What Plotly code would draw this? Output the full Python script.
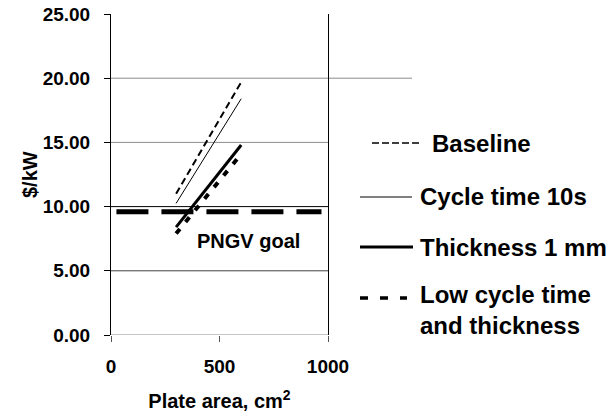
import plotly.graph_objects as go

# ---- data ----
plate_area = [300, 400, 500, 600]
baseline = [11.0, 13.9, 16.8, 19.7]
cycle_time_10s = [10.25, 12.97, 15.68, 18.4]
thickness_1mm = [8.4, 10.53, 12.67, 14.8]
low_cycle_thickness = [7.9, 9.97, 12.03, 14.1]
goal_x = [25, 970]
goal_y = [9.6, 9.6]
y_ticks = [0, 5, 10, 15, 20, 25]
y_tick_labels = ["0.00", "5.00", "10.00", "15.00", "20.00", "25.00"]
x_ticks = [0, 500, 1000]
grid_vals = [0, 5, 10, 15, 20]
grid_colors = ["#8c8c8c", "#404040", "#000000", "#8c8c8c", "#8c8c8c"]
series_names = ["Baseline", "Cycle time 10s", "Thickness 1 mm", "Low cycle time<br>and thickness"]

FONT = "Liberation Sans, Arial, Helvetica, sans-serif"

fig = go.Figure()

shapes = []
for v, c in zip(grid_vals, grid_colors):
    x1 = 1.0
    if v == 20:
        x1 = (412 - 111) / 217
    shapes.append(dict(type="line", xref="paper", yref="y", x0=0, x1=x1, y0=v, y1=v,
                       line=dict(color=c, width=1), layer="below"))

fig.add_trace(go.Scatter(x=goal_x, y=goal_y, mode="lines",
                         line=dict(color="black", width=5, dash="32px,13px"), showlegend=False))
fig.add_trace(go.Scatter(x=plate_area, y=baseline, mode="lines", name=series_names[0],
                         line=dict(color="black", width=2, dash="7px,4px"), showlegend=False))
fig.add_trace(go.Scatter(x=plate_area, y=cycle_time_10s, mode="lines", name=series_names[1],
                         line=dict(color="black", width=1), showlegend=False))
fig.add_trace(go.Scatter(x=plate_area, y=thickness_1mm, mode="lines", name=series_names[2],
                         line=dict(color="black", width=3), showlegend=False))
fig.add_trace(go.Scatter(x=plate_area, y=low_cycle_thickness, mode="lines", name=series_names[3],
                         line=dict(color="black", width=4, dash="6px,9px"), showlegend=False))

def px2x(p):
    return (p - 111) / 217

def py2y(q):
    return (335 - q) / 321

legend_items = [
    (372, 422, 143, 1.5, "7px,3px", 430, 143),
    (360, 412, 197, 1, "solid", 418, 197),
    (360, 413, 247, 3, "solid", 418, 247),
    (360, 407, 298, 3.5, "8px,12px", 418, 310),
]
annotations = []
for (xa, xb, yy, w, d, tx, ty), name in zip(legend_items, series_names):
    shapes.append(dict(type="line", xref="paper", yref="paper", x0=px2x(xa), x1=px2x(xb),
                       y0=py2y(yy), y1=py2y(yy), line=dict(color="black", width=w, dash=d)))
    annotations.append(dict(xref="paper", yref="paper", x=px2x(tx), y=py2y(ty), text=name,
                            showarrow=False, xanchor="left", yanchor="middle", align="left",
                            font=dict(family=FONT, size=24, color="black", weight="bold")))

annotations.append(dict(x=635, y=7.3, xref="x", yref="y", text="PNGV goal", showarrow=False,
                        font=dict(family=FONT, size=20, color="black", weight="bold")))
annotations.append(dict(x=px2x(30), y=py2y(175), xref="paper", yref="paper", text="$/kW",
                        textangle=-90, showarrow=False, xanchor="center", yanchor="middle",
                        font=dict(family=FONT, size=20, color="black", weight="bold")))

fig.update_layout(
    template="none",
    width=612, height=416,
    margin=dict(l=111, r=284, t=14, b=81, autoexpand=False),
    paper_bgcolor="white", plot_bgcolor="white",
    font=dict(family=FONT, size=19, color="black", weight="bold"),
    shapes=shapes, annotations=annotations, showlegend=False,
)
fig.update_xaxes(range=[0, 1000], tickvals=x_ticks, ticks="outside", ticklen=6,
                 tickcolor="#555", showgrid=False, zeroline=False, showline=False,
                 automargin=False, ticklabelstandoff=8,
                 title=dict(text="Plate area, cm<sup>2</sup>", standoff=18,
                            font=dict(family=FONT, size=20, weight="bold")))
fig.update_yaxes(range=[0, 25], tickvals=y_ticks, ticktext=y_tick_labels, ticks="outside",
                 ticklen=6, tickcolor="black", showgrid=False, zeroline=False,
                 showline=True, linecolor="black", linewidth=1, mirror=True,
                 automargin=False, ticklabelstandoff=10)

fig.write_html("out.html")
